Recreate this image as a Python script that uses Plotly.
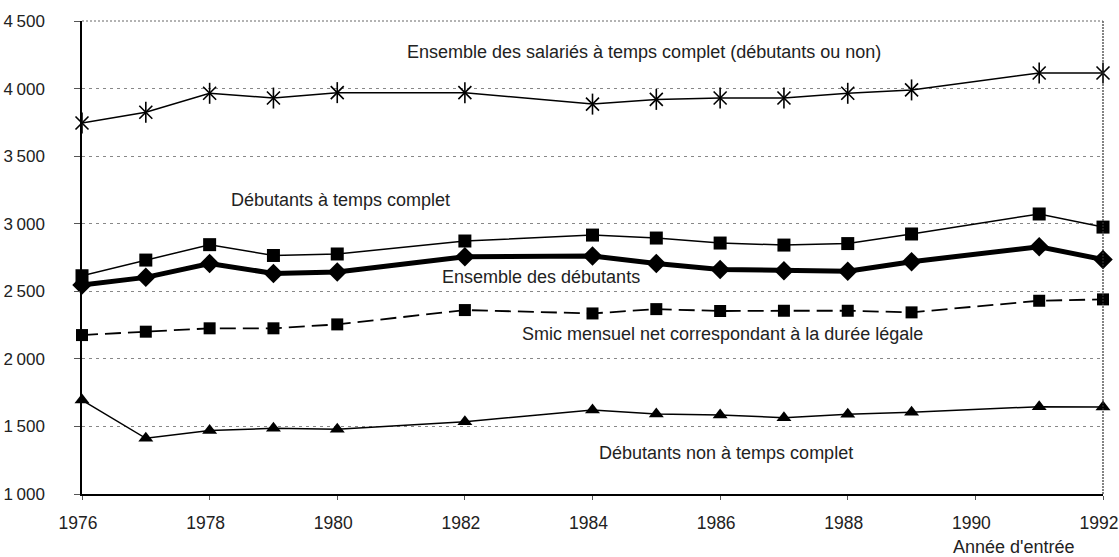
import plotly.graph_objects as go

years = [1976, 1977, 1978, 1979, 1980, 1982, 1984, 1985, 1986, 1987, 1988, 1989, 1991, 1992]

ensemble_salaries = [3745, 3825, 3965, 3930, 3970, 3970, 3885, 3920, 3930, 3930, 3965, 3990, 4115, 4115]
debutants_tc = [2615, 2731, 2845, 2765, 2776, 2872, 2916, 2894, 2857, 2842, 2853, 2924, 3072, 2975]
ensemble_debutants = [2546, 2603, 2706, 2632, 2642, 2756, 2761, 2706, 2662, 2652, 2648, 2719, 2830, 2735]
smic = [2176, 2201, 2226, 2226, 2255, 2361, 2336, 2368, 2354, 2356, 2356, 2344, 2430, 2440]
debutants_non_tc = [1695, 1412, 1469, 1486, 1479, 1535, 1622, 1592, 1585, 1565, 1590, 1605, 1646, 1643]

y_tickvals = [1000, 1500, 2000, 2500, 3000, 3500, 4000, 4500]
y_ticktext = ["1\u2009000", "1\u2009500", "2\u2009000", "2\u2009500", "3\u2009000", "3\u2009500", "4\u2009000", "4\u2009500"]
x_tickvals = [1976, 1978, 1980, 1982, 1984, 1986, 1988, 1990, 1992]

labels = {
    "sal": "Ensemble des salariés à temps complet (débutants ou non)",
    "tc": "Débutants à temps complet",
    "ens": "Ensemble des débutants",
    "smic": "Smic mensuel net correspondant à la durée légale",
    "ntc": "Débutants non à temps complet",
}

FONT = "Liberation Sans, Arial, sans-serif"
BLACK = "#000000"
TXT = "#222222"

fig = go.Figure()

# Ensemble des salariés: line + asterisk (X + vertical bar)
fig.add_trace(go.Scatter(x=years, y=ensemble_salaries, mode="lines",
                         line=dict(color=BLACK, width=1.5), cliponaxis=False, hoverinfo="skip"))
fig.add_trace(go.Scatter(x=years, y=ensemble_salaries, mode="markers",
                         marker=dict(symbol="x-thin-open", size=13, color=BLACK,
                                     line=dict(color=BLACK, width=1.6)),
                         cliponaxis=False))
fig.add_trace(go.Scatter(x=years, y=ensemble_salaries, mode="markers",
                         marker=dict(symbol="line-ns-open", size=15, color=BLACK,
                                     line=dict(color=BLACK, width=1.6)),
                         cliponaxis=False))

# Débutants à temps complet
fig.add_trace(go.Scatter(x=years, y=debutants_tc, mode="lines+markers",
                         line=dict(color=BLACK, width=1.5),
                         marker=dict(symbol="square", size=13, color=BLACK),
                         cliponaxis=False))

# Ensemble des débutants (thick)
fig.add_trace(go.Scatter(x=years, y=ensemble_debutants, mode="lines+markers",
                         line=dict(color=BLACK, width=5),
                         marker=dict(symbol="diamond", size=15, color=BLACK),
                         cliponaxis=False))

# Smic (dashed)
fig.add_trace(go.Scatter(x=years, y=smic, mode="lines+markers",
                         line=dict(color=BLACK, width=1.8, dash="16px,7px"),
                         marker=dict(symbol="square", size=12, color=BLACK),
                         cliponaxis=False))

# Débutants non à temps complet
fig.add_trace(go.Scatter(x=years, y=debutants_non_tc, mode="lines+markers",
                         line=dict(color=BLACK, width=1.5),
                         marker=dict(symbol="triangle-up", size=13, color=BLACK),
                         cliponaxis=False))

ann_font = dict(family=FONT, size=18, color=TXT)
annotations = [
    dict(x=0.5504, y=0.934, text=labels["sal"]),
    dict(x=0.2527, y=0.6216, text=labels["tc"]),
    dict(x=0.4496, y=0.4588, text=labels["ens"]),
    dict(x=0.627, y=0.338, text=labels["smic"]),
    dict(x=0.6307, y=0.0867, text=labels["ntc"]),
]
for a in annotations:
    fig.add_annotation(xref="paper", yref="paper", showarrow=False, font=ann_font,
                       xanchor="center", yanchor="middle", **a)

fig.add_annotation(xref="paper", yref="paper", x=0.913, y=-0.112, text="Année d'entrée",
                   showarrow=False, font=dict(family=FONT, size=18, color=TXT),
                   xanchor="center", yanchor="middle")

# Dotted right and top borders
fig.add_shape(type="line", xref="x domain", yref="y domain", x0=1, x1=1, y0=0, y1=1,
              line=dict(color="#333333", width=1.2, dash="2px,1px"))
fig.add_shape(type="line", xref="x domain", yref="y domain", x0=0, x1=1, y0=1, y1=1,
              line=dict(color="#666666", width=1, dash="2px,2px"))

fig.update_layout(
    width=1119, height=557,
    margin=dict(l=82, r=16, t=21, b=63, autoexpand=False),
    paper_bgcolor="white", plot_bgcolor="white",
    showlegend=False,
    font=dict(family=FONT, size=18, color=TXT),
)
fig.update_xaxes(range=[1976, 1992], tickvals=x_tickvals, ticktext=[str(v) for v in x_tickvals],
                 showgrid=False, zeroline=False, showline=True, linecolor=BLACK, linewidth=1.5,
                 ticks="outside", ticklen=4, tickcolor="#555555", ticklabelstandoff=8,
                 ticklabelshift=-4, ticklabeloverflow="allow", automargin=False,
                 tickfont=dict(size=17.5, color=TXT))
fig.update_yaxes(range=[1000, 4500], tickvals=y_tickvals, ticktext=y_ticktext,
                 showgrid=True, gridcolor="#888888", griddash="3px,4px", gridwidth=1,
                 zeroline=False, showline=True, linecolor=BLACK, linewidth=1.5,
                 ticks="outside", ticklen=6, tickcolor="#555555", ticklabelstandoff=26,
                 ticklabeloverflow="allow", automargin=False, tickfont=dict(size=17, color=TXT))

fig.write_html("out.html", config={"displayModeBar": False},
               post_script="document.body.style.margin='0';")
